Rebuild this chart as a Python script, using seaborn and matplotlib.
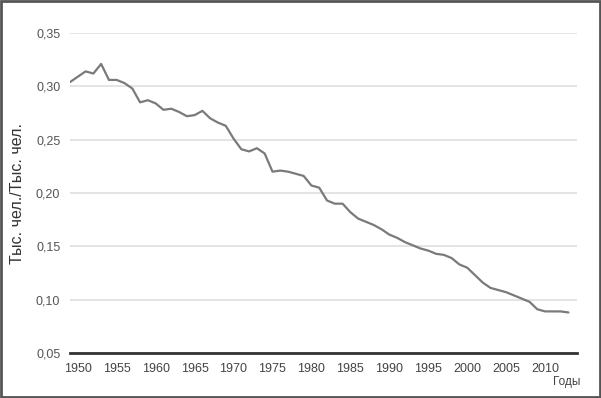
import numpy as np
import pandas as pd
import matplotlib
matplotlib.use("Agg")
import matplotlib.pyplot as plt
from matplotlib.patches import Rectangle
import seaborn as sns

# годы и значения
years = list(range(1949, 2014))
values = [0.304, 0.309, 0.314, 0.312, 0.321, 0.306, 0.306, 0.303, 0.298, 0.285,
          0.287, 0.284, 0.278, 0.279, 0.276, 0.272, 0.273, 0.277, 0.270, 0.266,
          0.263, 0.251, 0.241, 0.239, 0.242, 0.237, 0.220, 0.221, 0.220, 0.218,
          0.216, 0.207, 0.205, 0.193, 0.190, 0.190, 0.182, 0.176, 0.173, 0.170,
          0.166, 0.161, 0.158, 0.154, 0.151, 0.148, 0.146, 0.143, 0.142, 0.139,
          0.133, 0.130, 0.123, 0.116, 0.111, 0.109, 0.107, 0.104, 0.101, 0.098,
          0.091, 0.089, 0.089, 0.089, 0.088]
x_ticks = list(range(1950, 2011, 5))
y_ticks = [0.05, 0.10, 0.15, 0.20, 0.25, 0.30, 0.35]
y_labels = ["0,05", "0,10", "0,15", "0,20", "0,25", "0,30", "0,35"]

df = pd.DataFrame({"year": years, "value": values})

sns.set_style("white")
plt.rcParams['font.family'] = ['Liberation Sans', 'DejaVu Sans']

fig = plt.figure(figsize=(6.01, 3.98), dpi=100)
ax = fig.add_axes([70 / 601, 45 / 398, 507 / 601, 320 / 398])

sns.lineplot(data=df, x="year", y="value", ax=ax, color="#7a7a7a", linewidth=1.6)

ax.set_xlim(1949, 2014.1)
ax.set_ylim(0.05, 0.35)
ax.set_xticks(x_ticks)
ax.set_xticklabels([str(y) for y in x_ticks], fontsize=9, color="#444444")
ax.set_yticks(y_ticks)
ax.set_yticklabels(y_labels, fontsize=9, color="#555555")
ax.tick_params(axis="both", length=0)
ax.tick_params(axis="x", pad=7)
ax.tick_params(axis="y", pad=7)

ax.grid(axis="y", color="#e2e2e2", linewidth=1.3)
ax.grid(axis="x", visible=False)
for s in ["top", "right", "left"]:
    ax.spines[s].set_visible(False)
ax.spines["bottom"].set_color("#333333")
ax.spines["bottom"].set_linewidth(2)

ax.set_xlabel("")
ax.set_ylabel("Тыс. чел./Тыс. чел.", fontsize=11.5, color="#333333", labelpad=8)

fig.text(567 / 601, 1 - 382 / 398, "Годы", fontsize=8.5, color="#444444",
         ha="center", va="center")

# рамка вокруг всего рисунка
fig.patches.append(Rectangle((0.002, 0.003), 0.996, 0.994, transform=fig.transFigure,
                             fill=False, edgecolor="#555555", linewidth=2))

fig.savefig("out.png", dpi=100)
